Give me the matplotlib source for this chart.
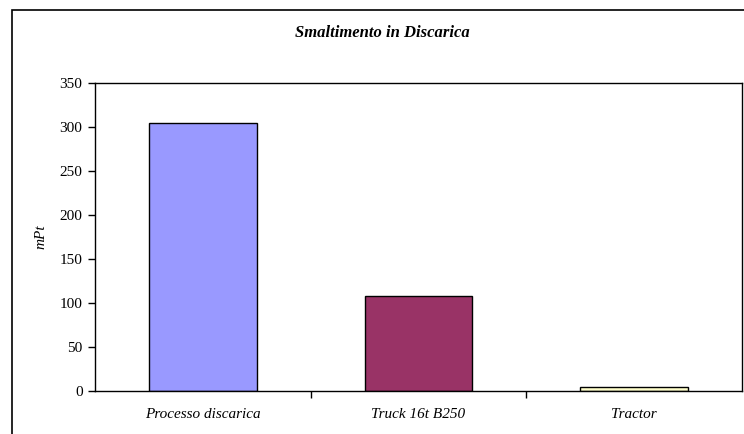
import matplotlib.pyplot as plt
from matplotlib.patches import Rectangle

categories = ["Processo discarica", "Truck 16t B250", "Tractor"]
values = [304, 108, 4]
colors = ["#9999FF", "#993366", "#FFFFCC"]

plt.rcParams['font.family'] = ['Liberation Serif', 'DejaVu Serif']

fig = plt.figure(figsize=(7.44, 4.34), dpi=100)
ax = fig.add_axes([95/744, 1 - 391/434, (742-95)/744, (391-83)/434])

ax.bar(range(len(categories)), values, width=0.5, color=colors,
       edgecolor="black", linewidth=1.0, zorder=2)

ax.set_xlim(-0.5, len(categories) - 0.5)
ax.set_ylim(0, 350)
ax.set_yticks(range(0, 351, 50))
ax.tick_params(axis='y', direction='out', length=5, width=1, labelsize=11, pad=4)

# category labels without ticks, separators at boundaries
ax.set_xticks(range(len(categories)))
ax.set_xticklabels(categories, fontstyle='italic', fontsize=11)
ax.tick_params(axis='x', length=0, pad=12)
ax.set_xticks([0.5, 1.5], minor=True)
ax.tick_params(axis='x', which='minor', direction='out', length=5, width=1)

for s in ax.spines.values():
    s.set_linewidth(1.0)

ax.set_ylabel("mPt", fontstyle='italic', fontsize=11, labelpad=9)
fig.text(382/744, 1 - 33/434, "Smaltimento in Discarica", ha='center', va='center',
         fontsize=12, fontweight='bold', fontstyle='italic')

# chart area border
fig.patches.append(Rectangle((12/744, -0.1), 1.2, 1.1 - 10/434, transform=fig.transFigure,
                             fill=False, edgecolor='black', linewidth=1.2))

fig.savefig("out.png", dpi=100)
